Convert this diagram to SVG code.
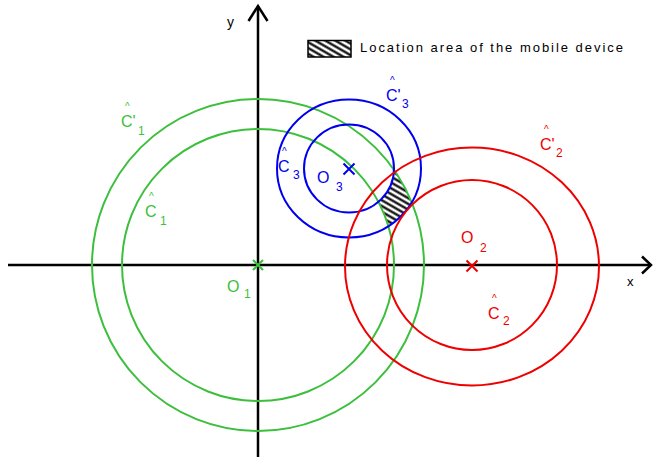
<svg xmlns="http://www.w3.org/2000/svg" width="653" height="457" viewBox="0 0 653 457">
<style>
text{font-family:"Liberation Sans",Arial,sans-serif}
.m{font-size:16px}
.g{stroke:#3cbf3c;fill:none;stroke-width:2}
.b{stroke:#0000ee;fill:none;stroke-width:2}
.r{stroke:#ee0000;fill:none;stroke-width:2}
.tg{fill:#3cbf3c}
.tb{fill:#0000ee}
.tr{fill:#ee0000}
.s{font-size:12px}
.h{font-size:10px}
.ax{stroke:#000;stroke-width:2.5;fill:none}
.yl{font-size:14px}
.xl{font-size:13px}
.lg{font-size:13px}
</style>
<defs>
<pattern id="hatch" patternUnits="userSpaceOnUse" width="5" height="5" patternTransform="rotate(30)">
<rect width="5" height="5" fill="#fff"/>
<line x1="0" y1="2.5" x2="5" y2="2.5" stroke="#000" stroke-width="2.2"/>
</pattern>
<clipPath id="cg"><path clip-rule="evenodd" d="M92,265a166,166 0 1,0 332,0a166,166 0 1,0 -332,0ZM122,265a136,136 0 1,0 272,0a136,136 0 1,0 -272,0Z"/></clipPath>
<clipPath id="cb"><path clip-rule="evenodd" d="M277,168.5a72,69 0 1,0 144,0a72,69 0 1,0 -144,0ZM304,168.5a45,44 0 1,0 90,0a45,44 0 1,0 -90,0Z"/></clipPath>
<clipPath id="cr"><path clip-rule="evenodd" d="M345,266.5a127,119 0 1,0 254,0a127,119 0 1,0 -254,0ZM387,265a85,85 0 1,0 170,0a85,85 0 1,0 -170,0Z"/></clipPath>
</defs>
<rect width="653" height="457" fill="#fff"/>
<g id="area" clip-path="url(#cg)"><g clip-path="url(#cb)"><g clip-path="url(#cr)"><rect x="340" y="150" width="100" height="100" fill="url(#hatch)"/></g></g></g>
<g id="connectors">
<line class="ax" x1="8" y1="265" x2="651" y2="265"/>
<polyline class="ax" points="642,256.5 651,265 642,273.5"/>
<line class="ax" x1="258" y1="457" x2="258" y2="6"/>
<polyline class="ax" points="248.5,21 258,6 267.5,21"/>
</g>
<g id="circle1">
<circle class="g" cx="258" cy="265" r="166"/>
<circle class="g" cx="258" cy="265" r="136"/>
<path class="g" stroke-width="2.5" d="M253,260l10,10M263,260l-10,10"/>
</g>
<g id="circle3">
<ellipse class="b" cx="349" cy="168.5" rx="72" ry="69"/>
<ellipse class="b" cx="349" cy="168.5" rx="45" ry="44"/>
<path class="b" stroke-width="2.5" d="M343.5,163.5l11,11M354.5,163.5l-11,11"/>
</g>
<g id="circle2">
<ellipse class="r" cx="472" cy="266.5" rx="127" ry="119"/>
<circle class="r" cx="472" cy="265" r="85"/>
<path class="r" stroke-width="2.5" d="M466.5,260.5l11,11M477.5,260.5l-11,11"/>
</g>
<g id="labels">
<text class="yl" x="227" y="27">y</text>
<text class="xl" x="627" y="286">x</text>
<text class="tg m"><tspan class="h" x="125" y="110">^</tspan><tspan x="121" y="127">C'</tspan><tspan class="s" x="138" y="135">1</tspan></text>
<text class="tg m"><tspan class="h" x="149" y="200">^</tspan><tspan x="145" y="217">C</tspan><tspan class="s" x="160" y="225">1</tspan></text>
<text class="tg m"><tspan x="227" y="292">O</tspan><tspan class="s" x="244" y="298">1</tspan></text>
<text class="tb m"><tspan class="h" x="390" y="84">^</tspan><tspan x="386" y="101">C'</tspan><tspan class="s" x="402" y="108">3</tspan></text>
<text class="tb m"><tspan class="h" x="282" y="155">^</tspan><tspan x="278" y="172">C</tspan><tspan class="s" x="293" y="179">3</tspan></text>
<text class="tb m"><tspan x="317" y="183">O</tspan><tspan class="s" x="336" y="191">3</tspan></text>
<text class="tr m"><tspan class="h" x="544" y="133">^</tspan><tspan x="540" y="150">C'</tspan><tspan class="s" x="556" y="157">2</tspan></text>
<text class="tr m"><tspan x="461" y="243">O</tspan><tspan class="s" x="480" y="252">2</tspan></text>
<text class="tr m"><tspan class="h" x="492" y="302">^</tspan><tspan x="488" y="319">C</tspan><tspan class="s" x="503" y="325">2</tspan></text>
</g>
<g id="legend">
<rect x="308" y="40.5" width="43" height="16.5" fill="url(#hatch)" stroke="#000" stroke-width="1.5"/>
<text class="lg" x="360" y="52" textLength="263" lengthAdjust="spacing">Location area of the mobile device</text>
</g>
</svg>
